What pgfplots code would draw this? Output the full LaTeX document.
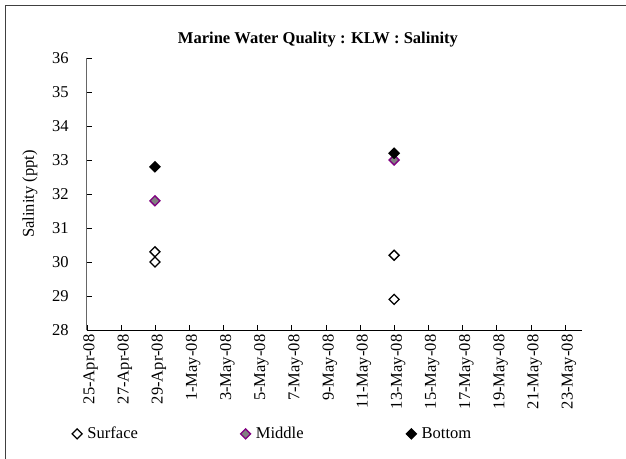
\documentclass[border=0pt]{standalone}
\usepackage{fontspec}
\setmainfont{Liberation Serif}
\usepackage{pgfplots}
\pgfplotsset{compat=1.18}
\definecolor{midfill}{RGB}{128,128,128}
\definecolor{midedge}{RGB}{128,0,128}
\begin{document}
\begin{tikzpicture}
\useasboundingbox (0,0) rectangle (469.5pt,-344.25pt);
\draw[line width=1.1pt, black!75] (4.1pt,-344.25pt) -- (4.1pt,-4.1pt) -- (469.5pt,-4.1pt);
\begin{axis}[
 at={(65pt,-247.5pt)}, anchor=south west,
 scale only axis, width=371.5pt, height=204pt,
 xmin=0, xmax=29, ymin=28, ymax=36,
 axis x line=bottom, axis y line=left, axis line style={-, black},
 y axis line style={black!60, line width=0.9pt},
 tick align=inside, major tick length=3.75pt,
 tick style={black},
 xtick={0,2,...,28},
 xticklabels={25-Apr-08,27-Apr-08,29-Apr-08,1-May-08,3-May-08,5-May-08,7-May-08,9-May-08,11-May-08,13-May-08,15-May-08,17-May-08,19-May-08,21-May-08,23-May-08},
 x tick label style={rotate=90, anchor=east, font=\fontsize{12.4}{13}\selectfont, yshift=-3pt},
 ytick={28,29,...,36},
 y tick label style={font=\fontsize{12.4}{13}\selectfont, xshift=-10pt},
 /pgf/number format/assume math mode=true,
 ylabel={Salinity (ppt)},
 ylabel style={font=\fontsize{12.4}{13}\selectfont, at={(axis description cs:-0.1145,0.5)}, anchor=center},
 title={Marine Water Quality : KLW : Salinity},
 title style={font=\bfseries\fontsize{12.4}{13}\selectfont, at={(axis description cs:0.467,1.037)}, anchor=center},
 legend columns=3,
 legend style={draw=none, fill=none, at={(axis description cs:-0.038,-0.382)}, anchor=west,
   font=\fontsize{12.4}{13}\selectfont,
   /tikz/every odd column/.append style={column sep=2pt},
   /tikz/every even column/.append style={column sep=75pt}},
 legend image code/.code={\draw[#1] plot coordinates {(0pt,0pt)};},
 clip=false,
]
\addplot[only marks, mark=square, mark size=2.65pt, mark options={rotate=45, draw=black, fill=white, line width=1pt}]
 coordinates {(4,30.3) (4,30.0) (18,30.2) (18,28.9)};
\addlegendentry{Surface}
\addplot[only marks, mark=square*, mark size=2.65pt, mark options={rotate=45, draw=midedge, fill=midfill, line width=1pt}]
 coordinates {(4,31.8) (18,33.0)};
\addlegendentry{Middle}
\addplot[only marks, mark=square*, mark size=2.65pt, mark options={rotate=45, draw=black, fill=black, line width=1pt}]
 coordinates {(4,32.8) (18,33.2)};
\addlegendentry{Bottom}
\end{axis}
\end{tikzpicture}
\end{document}
